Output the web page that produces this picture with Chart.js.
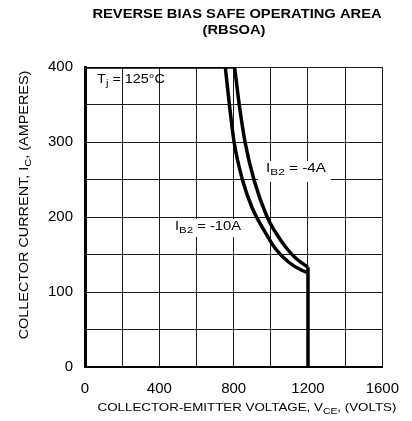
<!DOCTYPE html>
<html>
<head>
<meta charset="utf-8">
<script src="https://cdn.jsdelivr.net/npm/chart.js@4.4.0/dist/chart.umd.min.js"></script>
<style>
  html, body { margin: 0; padding: 0; background: #fff; }
  canvas { display: block; }
</style>
</head>
<body>
<canvas id="rbsoa" width="412" height="421"></canvas>
<script>
// RBSOA — Reverse bias safe operating area

// axes
const V_TICK_LABELS = [0, 400, 800, 1200, 1600];
const I_TICK_LABELS = [0, 100, 200, 300, 400];

// IB2 = -10A (inner curve)
const vce10 = [755, 777, 803, 848, 900, 971, 1024, 1095, 1166, 1200];
const ic10  = [400, 350, 299, 249, 212, 179, 158, 140, 129, 126];

// IB2 = -4A (outer curve)
const vce4 = [805, 830, 862, 910, 980, 1024, 1086, 1139, 1200];
const ic4  = [400, 350, 299, 249, 200, 180, 158, 144, 133];

// flat limit at 400 A and voltage limit at 1200 V
const topV = [0, 805];
const topI = [400, 400];
const edgeV = [1200, 1200];
const edgeI = [133, 0];

const FONT = "'Liberation Sans', Arial, Helvetica, sans-serif";
const pts = (xs, ys) => xs.map((x, i) => ({ x, y: ys[i] }));

// draws text runs with subscripts, centred on (cx, cy), stretched by sx
function drawRuns(ctx, runs, cx, cy, size, bold, sx = 1) {
  const setFont = r => { ctx.font = `${bold ? "bold " : ""}${r.sub ? size * 0.78 : size}px ${FONT}`; };
  const w = r => { setFont(r); return ctx.measureText(r.t).width; };
  const total = runs.reduce((s, r) => s + w(r), 0);
  ctx.save();
  ctx.translate(cx, cy);
  ctx.scale(sx, 1);
  let x = -total / 2;
  ctx.textBaseline = "middle";
  ctx.textAlign = "left";
  runs.forEach(r => {
    setFont(r);
    ctx.fillText(r.t, x, r.sub ? size * 0.3 : 0);
    x += ctx.measureText(r.t).width;
  });
  ctx.restore();
}

const textPlugin = {
  id: "rbsoaText",
  afterDraw(chart) {
    const ctx = chart.ctx;
    ctx.save();
    ctx.fillStyle = "#000";

    // titre
    drawRuns(ctx, [{ t: "REVERSE BIAS SAFE OPERATING AREA" }], 237, 14, 13.5, true, 1.09);
    drawRuns(ctx, [{ t: "(RBSOA)" }], 234, 30, 13.5, true, 1.09);

    // axe x
    drawRuns(ctx, [{ t: "COLLECTOR-EMITTER VOLTAGE, V" }, { t: "CE", sub: true }, { t: ", (VOLTS)" }], 247, 408, 11.5, false, 1.16);

    // axe y
    ctx.save();
    ctx.translate(25, 205);
    ctx.rotate(-Math.PI / 2);
    drawRuns(ctx, [{ t: "COLLECTOR CURRENT, I" }, { t: "C", sub: true }, { t: ", (AMPERES)" }], 0, 0, 12, false, 1.2);
    ctx.restore();

    // annotations
    drawRuns(ctx, [{ t: "T" }, { t: "j", sub: true }, { t: " = 125°C" }], 131, 80, 12.5, false, 1.15);

    ctx.fillStyle = "#fff";
    ctx.fillRect(258, 161, 73, 21);
    ctx.fillRect(171, 219, 75, 18);
    ctx.fillStyle = "#000";
    drawRuns(ctx, [{ t: "I" }, { t: "B2", sub: true }, { t: " = -4A" }], 296, 169, 12.5, false, 1.22);
    drawRuns(ctx, [{ t: "I" }, { t: "B2", sub: true }, { t: " = -10A" }], 208, 227, 12.5, false, 1.18);
    ctx.restore();
  }
};

const line = (data, smooth) => ({
  data, showLine: true, borderColor: "#000", borderWidth: 3.5,
  pointRadius: 0, fill: false,
  cubicInterpolationMode: smooth ? "monotone" : "default", tension: smooth ? 0.4 : 0,
  borderCapStyle: "butt", borderJoinStyle: "miter"
});

new Chart(document.getElementById("rbsoa"), {
  type: "scatter",
  data: {
    datasets: [
      line(pts(vce10, ic10), true),
      line(pts(vce4, ic4), true),
      line(pts(topV, topI), false),
      line(pts(edgeV, edgeI), false),
    ]
  },
  options: {
    responsive: false, animation: false,
    layout: { padding: { top: 67, right: 25, left: 0, bottom: 0 } },
    plugins: { legend: { display: false }, tooltip: { enabled: false } },
    scales: {
      x: {
        min: 0, max: 1600,
        afterFit: s => { s.height = 54; },
        grid: { color: "#1a1a1a", lineWidth: 1, drawTicks: false },
        border: { display: true, color: "#000", width: 2 },
        ticks: {
          stepSize: 200, padding: 13, color: "#000", maxRotation: 0, autoSkip: false,
          font: { family: FONT, size: 15 },
          callback: v => V_TICK_LABELS.includes(v) ? String(v) : ""
        }
      },
      y: {
        min: 0, max: 400,
        afterFit: s => { s.width = 85; },
        grid: { color: "#1a1a1a", lineWidth: 1, drawTicks: false },
        border: { display: true, color: "#000", width: 3 },
        ticks: {
          stepSize: 50, padding: 12, color: "#000", autoSkip: false,
          font: { family: FONT, size: 15 },
          callback: v => I_TICK_LABELS.includes(v) ? String(v) : ""
        }
      }
    }
  },
  plugins: [textPlugin]
});
</script>
</body>
</html>
